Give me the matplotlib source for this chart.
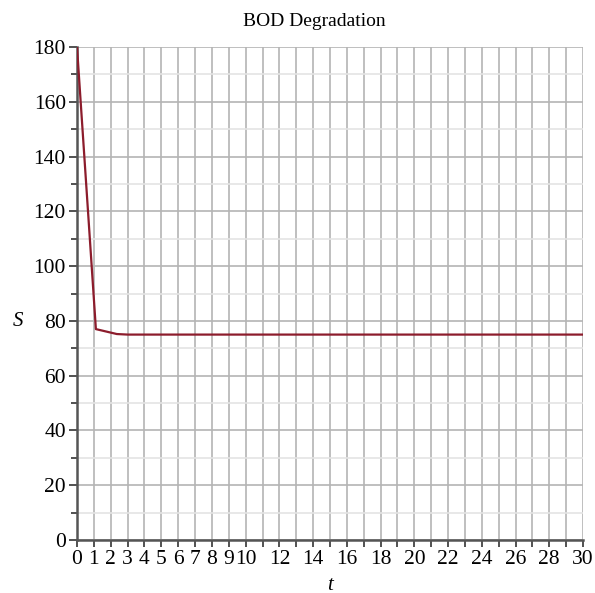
import matplotlib
matplotlib.use('Agg')
import matplotlib.pyplot as plt

# data
t_vals = [0, 1.12, 2.36, 3.0, 30]
s_vals = [180, 77.0, 75.2, 75.0, 75.0]

x_ticks = list(range(0, 31))
x_labels = [str(v) if (v <= 10 or v % 2 == 0) else '' for v in x_ticks]
y_ticks = list(range(0, 181, 20))
y_minor = list(range(10, 180, 20))

plt.rcParams['font.family'] = ['Liberation Serif', 'DejaVu Serif']

fig = plt.figure(figsize=(5.95, 5.93), dpi=100)
ax = fig.add_axes([77/595, 1 - 540/593, (583 - 77)/595, (540 - 47)/593])

ax.plot(t_vals, s_vals, color='#8c1c2c', linewidth=1.6, zorder=3)

ax.set_xlim(0, 30)
ax.set_ylim(0, 180)
ax.set_xticks(x_ticks)
ax.set_xticklabels(x_labels, fontsize=15.5)
ax.set_yticks(y_ticks)
ax.set_yticklabels([str(v) for v in y_ticks], fontsize=15.5)
ax.set_yticks(y_minor, minor=True)

ax.grid(True, which='major', color='#b4b4b4', linewidth=1.2)
ax.grid(True, which='minor', axis='y', color='#e4e4e4', linewidth=1.2)
ax.set_axisbelow(True)

for side in ['top', 'right']:
    ax.spines[side].set_visible(False)
for side in ['left', 'bottom']:
    ax.spines[side].set_color('#555555')
    ax.spines[side].set_linewidth(1.8)

ax.tick_params(axis='x', which='major', direction='out', length=5, width=1.2, color='#333333', pad=2)
ax.tick_params(axis='y', which='major', direction='out', length=6, width=1.2, color='#333333', pad=2)
ax.tick_params(axis='y', which='minor', direction='out', length=4, width=1.2, color='#333333')

fig.text(314/595, 1 - 22/593, 'BOD Degradation', fontsize=14, ha='center', va='center')
fig.text(330/595, 1 - 585/593, 't', fontsize=15, style='italic', ha='center', va='center')
fig.text(18/595, 1 - 322/593, 'S', fontsize=15, style='italic', ha='center', va='center')

fig.savefig('out.png', dpi=100)
